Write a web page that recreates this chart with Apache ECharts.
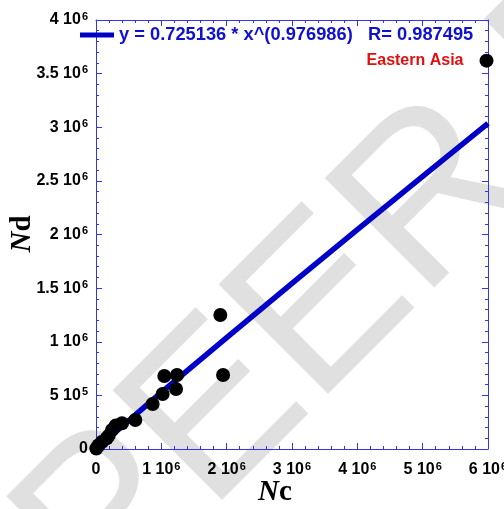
<!DOCTYPE html>
<html>
<head>
<meta charset="utf-8">
<script src="https://cdn.jsdelivr.net/npm/echarts@6/dist/echarts.min.js"></script>
<style>html,body{margin:0;padding:0;background:#fff;overflow:hidden}#c{width:504px;height:509px}</style>
</head>
<body>
<div id="c"></div>
<script>
const ncValues = [5977000, 1903000, 1945000, 1046000, 1240000, 1225000, 1020000, 867000, 602000, 398000, 300000, 245000, 195000, 165000, 95000, 40000, 5000];
const ndValues = [3621000, 1249000, 690000, 681000, 690000, 559000, 513000, 420000, 270000, 240000, 218000, 177000, 125000, 100000, 68000, 35000, 5000];
const regionLabel = 'Eastern Asia';
// Power-law fit curve points
const fitNc = [0, 1000000, 2000000, 3000000, 4000000, 5000000, 6000000];
const fitNd = [0, 527700, 1038600, 1543500, 2044400, 2542100, 3037000];
const fitName = 'y = 0.725136 * x^(0.976986)   R= 0.987495';
// Axis ticks
const xTickMax = 6000000, xTickStep = 1000000;
const yTickMax = 4000000, yTickStep = 500000;

const AX = '#3535e6';
const FONT = '"Liberation Sans", Arial, sans-serif';
function fmt(v){
  if (v === 0) return '{b|0}';
  const e = Math.floor(Math.log10(v) + 1e-9);
  const m = +(v / Math.pow(10, e)).toFixed(2);
  return '{b|' + m + ' 10}{s|' + e + '}';
}
const rich = {
  b: {fontSize: 16, fontWeight: 'bold', fontFamily: FONT, color: '#000', lineHeight: 18},
  s: {fontSize: 11, fontWeight: 'bold', fontFamily: FONT, color: '#000', lineHeight: 9, verticalAlign: 'top', padding: [0,0,0,1]}
};
function axisBase(extra){
  return Object.assign({
    type: 'value',
    axisLine: {show: true, onZero: false, lineStyle: {color: AX, width: 1}},
    axisTick: {show: true, inside: true, length: 6, lineStyle: {color: AX}},
    minorTick: {show: true, splitNumber: 5, length: 3, lineStyle: {color: AX}},
    splitLine: {show: false},
    minorSplitLine: {show: false}
  }, extra);
}
const pts = ncValues.map((x, i) => {
  const d = {value: [x, ndValues[i]]};
  if (i === 0) d.label = {show: true, position: 'left', distance: 16, formatter: regionLabel,
    color: '#e01010', fontWeight: 'bold', fontSize: 16, fontFamily: FONT};
  return d;
});
const chart = echarts.init(document.getElementById('c'), null, {renderer: 'canvas', width: 504, height: 509});
chart.setOption({
  animation: false,
  backgroundColor: '#fff',
  grid: {left: 96, right: 16, top: 20, bottom: 60, containLabel: false, outerBoundsMode: 'none'},
  legend: {
    show: true, left: 80, top: 26, padding: 0, itemWidth: 34, itemHeight: 5,
    data: [{name: fitName, icon: 'rect'}],
    textStyle: {color: '#1010d0', fontWeight: 'bold', fontSize: 18.3, fontFamily: FONT}
  },
  xAxis: [
    axisBase({min: 0, max: xTickMax, interval: xTickStep, position: 'bottom',
      axisLabel: {margin: 12, formatter: fmt, rich: rich}}),
    axisBase({min: 0, max: xTickMax, interval: xTickStep, position: 'top', axisLabel: {show: false}})
  ],
  yAxis: [
    axisBase({min: 0, max: yTickMax, interval: yTickStep, position: 'left',
      axisLabel: {margin: 8, formatter: fmt, rich: rich}}),
    axisBase({min: 0, max: yTickMax, interval: yTickStep, position: 'right', axisLabel: {show: false}})
  ],
  graphic: [
    {type: 'text', x: 59, y: 575, rotation: Math.PI / 4, z: -100, silent: true,
      style: {text: 'PEER REVIEW', font: '225px "Liberation Sans"', fill: '#e0e0e0', align: 'left', verticalAlign: 'middle'}},
    {type: 'text', x: 275, y: 493, z: 10,
      style: {text: '{i|N}{r|c}', align: 'center', verticalAlign: 'middle',
        rich: {i: {font: 'italic bold 29px "Liberation Serif"', fill: '#000'}, r: {font: 'bold 29px "Liberation Serif"', fill: '#000'}}}},
    {type: 'text', x: 23, y: 234, rotation: Math.PI / 2, z: 10,
      style: {text: '{i|N}{r|d}', align: 'center', verticalAlign: 'middle',
        rich: {i: {font: 'italic bold 29px "Liberation Serif"', fill: '#000'}, r: {font: 'bold 29px "Liberation Serif"', fill: '#000'}}}}
  ],
  series: [
    {name: fitName, type: 'line', data: fitNc.map((x, i) => [x, fitNd[i]]), showSymbol: false, symbol: 'none',
      lineStyle: {color: '#0000c8', width: 5.5}, itemStyle: {color: '#0000c8'}, z: 3},
    {name: 'data', type: 'scatter', data: pts, symbolSize: 14, itemStyle: {color: '#000', opacity: 1}, z: 4}
  ]
});
</script>
</body>
</html>
